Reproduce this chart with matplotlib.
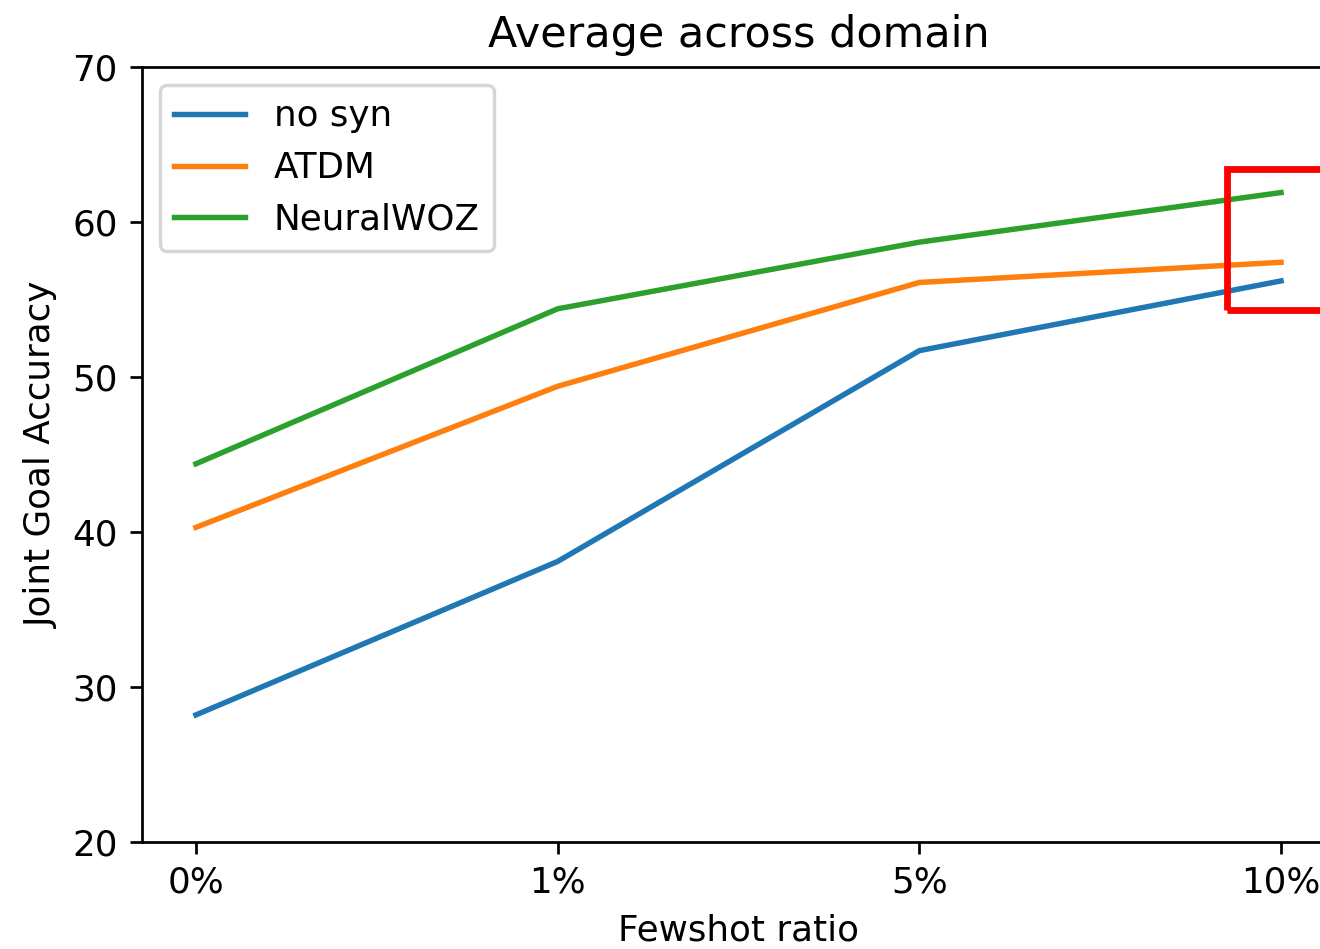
import matplotlib
matplotlib.use("Agg")
import matplotlib.pyplot as plt
from matplotlib.patches import Rectangle

# Data
ratios = ['0%', '1%', '5%', '10%']
no_syn = [28.2, 38.1, 51.7, 56.2]
atdm = [40.3, 49.4, 56.1, 57.4]
neuralwoz = [44.4, 54.4, 58.7, 61.9]

# highlighted region around the last point (data coords)
hl_x0, hl_x1 = 2.85, 3.40
hl_y0, hl_y1 = 54.3, 63.4

plt.rcParams['font.size'] = 10.5

DPI = 245
fig = plt.figure(figsize=(1320 / DPI, 949 / DPI), dpi=DPI)
# axes run past the right edge, as in the cropped reference
ax = fig.add_axes([141.7 / 1320, 107 / 949, 1193.6 / 1320, 775 / 949])

x = list(range(len(ratios)))
ax.plot(x, no_syn, label='no syn', linewidth=1.6)
ax.plot(x, atdm, label='ATDM', linewidth=1.6)
ax.plot(x, neuralwoz, label='NeuralWOZ', linewidth=1.6)

ax.set_xticks(x)
ax.set_xticklabels(ratios)
ax.set_ylim(20, 70)
ax.set_xlabel('Fewshot ratio')
ax.set_ylabel('Joint Goal Accuracy')
ax.set_title('Average across domain')
ax.legend(loc='upper left')

box = Rectangle((hl_x0, hl_y0), hl_x1 - hl_x0, hl_y1 - hl_y0,
                fill=False, edgecolor='#FF0000', linewidth=2.0, clip_on=False, zorder=5)
ax.add_patch(box)

fig.savefig('out.png', dpi=DPI)
